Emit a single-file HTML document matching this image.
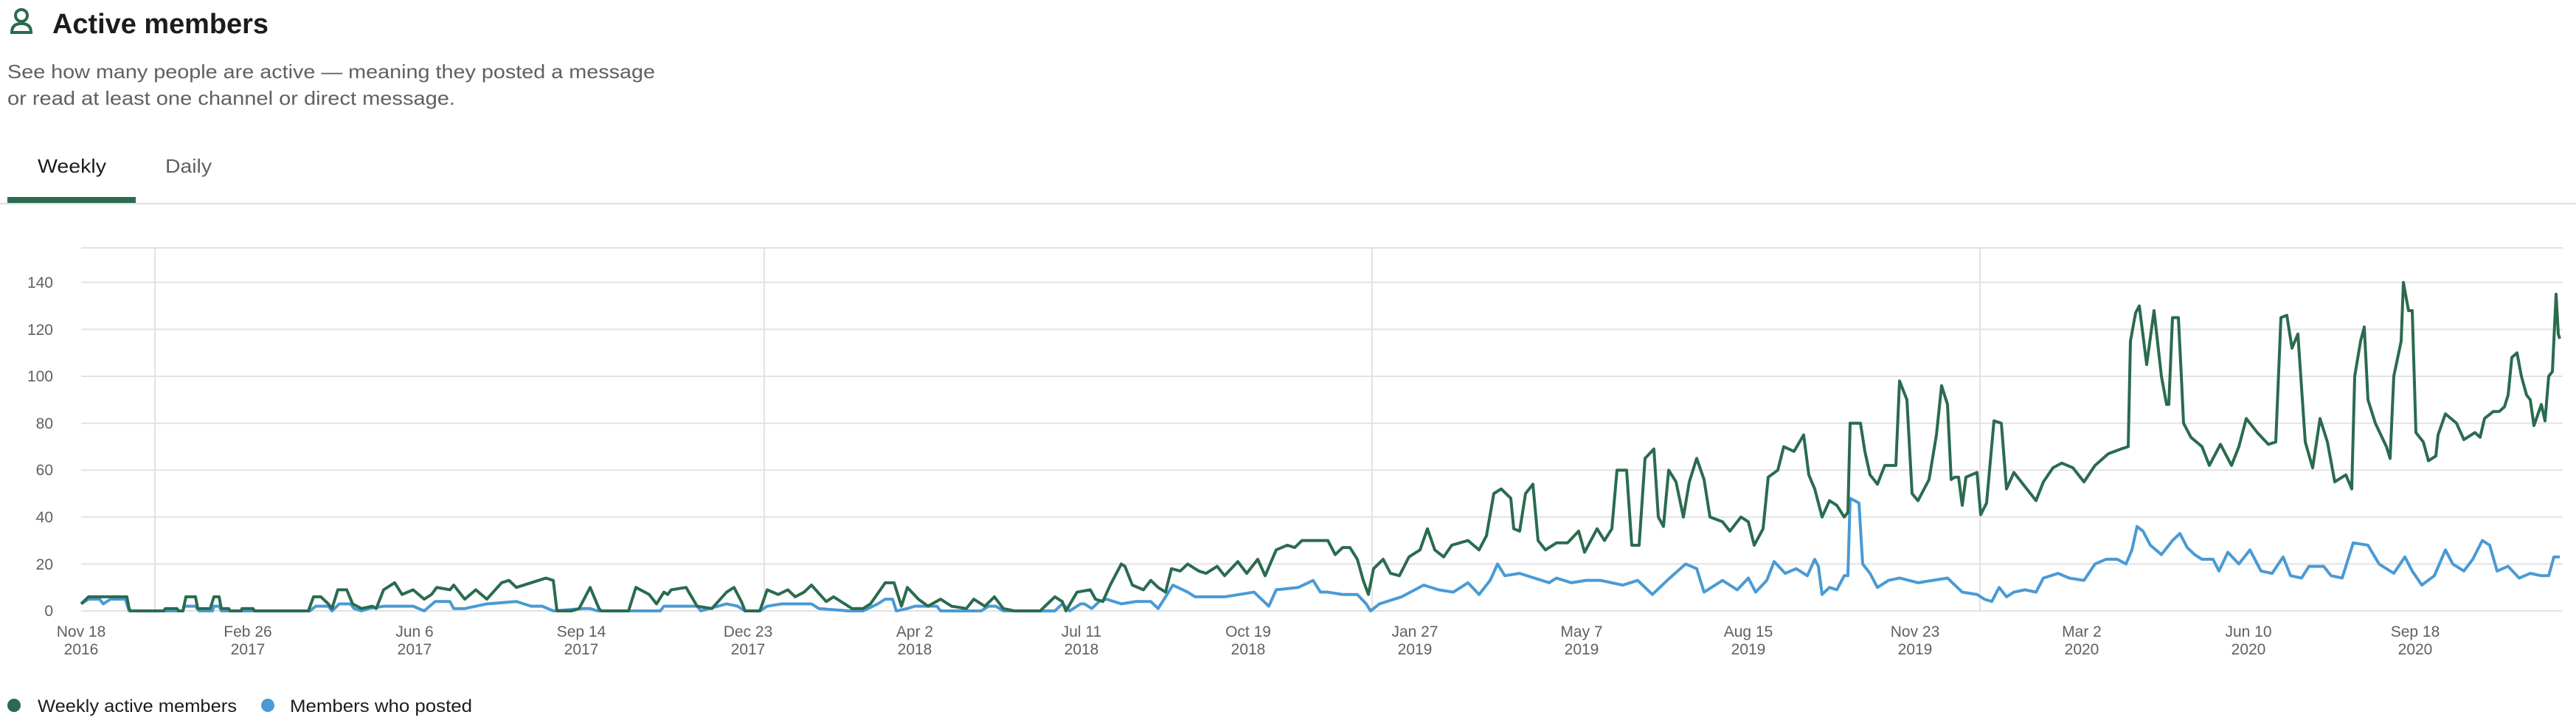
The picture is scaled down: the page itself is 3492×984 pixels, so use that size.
<!DOCTYPE html>
<html><head><meta charset="utf-8"><style>
html,body{margin:0;padding:0;background:#fff;width:3492px;height:984px;overflow:hidden}
svg{display:block}
text{font-family:"Liberation Sans",sans-serif}
</style></head><body>
<svg width="3492" height="984" viewBox="0 0 3492 984" xmlns="http://www.w3.org/2000/svg">
<!-- header -->
<g fill="none" stroke="#2a6b4f" stroke-width="4">
<circle cx="29" cy="21" r="8"/>
<path d="M16 44 Q16 32 29 32 Q42 32 42 44 Z"/>
</g>
<text x="71" y="45" font-size="38" font-weight="bold" fill="#1d1c1d" textLength="293" lengthAdjust="spacingAndGlyphs">Active members</text>
<text x="10" y="106" font-size="26" fill="#616061" textLength="878" lengthAdjust="spacingAndGlyphs">See how many people are active — meaning they posted a message</text>
<text x="10" y="142" font-size="26" fill="#616061" textLength="607" lengthAdjust="spacingAndGlyphs">or read at least one channel or direct message.</text>
<text x="51" y="234" font-size="26" fill="#1d1c1d" textLength="93" lengthAdjust="spacingAndGlyphs">Weekly</text>
<text x="224" y="234" font-size="26" fill="#616061" textLength="63" lengthAdjust="spacingAndGlyphs">Daily</text>
<rect x="0" y="275" width="3492" height="2" fill="#dddddd"/>
<rect x="10" y="267" width="174" height="8" fill="#2a6b4f"/>

<!-- grid -->
<g stroke="#e2e2e2" stroke-width="2">
<line x1="110" y1="336" x2="3474" y2="336"/>
<line x1="110" y1="382.8" x2="3474" y2="382.8"/>
<line x1="110" y1="446.4" x2="3474" y2="446.4"/>
<line x1="110" y1="510" x2="3474" y2="510"/>
<line x1="110" y1="573.6" x2="3474" y2="573.6"/>
<line x1="110" y1="637.2" x2="3474" y2="637.2"/>
<line x1="110" y1="700.8" x2="3474" y2="700.8"/>
<line x1="110" y1="764.4" x2="3474" y2="764.4"/>
<line x1="110" y1="828" x2="3474" y2="828"/>
<line x1="210" y1="336" x2="210" y2="828"/>
<line x1="1036" y1="336" x2="1036" y2="828"/>
<line x1="1860" y1="336" x2="1860" y2="828"/>
<line x1="2684" y1="336" x2="2684" y2="828"/>
</g>
<g font-size="21" fill="#616061" text-anchor="end">
<text x="72" y="390">140</text><text x="72" y="454">120</text><text x="72" y="517">100</text>
<text x="72" y="581">80</text><text x="72" y="644">60</text><text x="72" y="708">40</text>
<text x="72" y="772">20</text><text x="72" y="835">0</text>
</g>
<g font-size="21" fill="#616061" text-anchor="middle">
<text x="110" y="863">Nov 18</text><text x="110" y="887">2016</text>
<text x="336" y="863">Feb 26</text><text x="336" y="887">2017</text>
<text x="562" y="863">Jun 6</text><text x="562" y="887">2017</text>
<text x="788" y="863">Sep 14</text><text x="788" y="887">2017</text>
<text x="1014" y="863">Dec 23</text><text x="1014" y="887">2017</text>
<text x="1240" y="863">Apr 2</text><text x="1240" y="887">2018</text>
<text x="1466" y="863">Jul 11</text><text x="1466" y="887">2018</text>
<text x="1692" y="863">Oct 19</text><text x="1692" y="887">2018</text>
<text x="1918" y="863">Jan 27</text><text x="1918" y="887">2019</text>
<text x="2144" y="863">May 7</text><text x="2144" y="887">2019</text>
<text x="2370" y="863">Aug 15</text><text x="2370" y="887">2019</text>
<text x="2596" y="863">Nov 23</text><text x="2596" y="887">2019</text>
<text x="2822" y="863">Mar 2</text><text x="2822" y="887">2020</text>
<text x="3048" y="863">Jun 10</text><text x="3048" y="887">2020</text>
<text x="3274" y="863">Sep 18</text><text x="3274" y="887">2020</text>
</g>

<g transform="translate(0,828) scale(1,-3.18)" fill="none" stroke-linejoin="round">
<polyline vector-effect="non-scaling-stroke" stroke="#4a9ad4" stroke-width="4" points="110,3 120,5 135,5 140,3 150,5 170,5 175,0 248,0 250,2 265,2 270,0 288,0 290,2 297,2 300,0 420,0 428,2 445,2 450,0 460,3 475,3 480,1 490,0 500,1 520,2 560,2 575,0 590,4 610,4 615,1 630,1 660,3 700,4 720,2 735,2 750,0 790,1 800,1 810,0 895,0 900,2 945,2 950,0 985,3 1000,2 1010,0 1030,0 1040,2 1060,3 1100,3 1110,1 1150,0 1170,0 1190,3 1200,5 1210,5 1215,0 1230,1 1240,2 1270,2 1275,0 1330,0 1340,2 1350,2 1360,0 1430,0 1440,3 1450,0 1465,3 1470,3 1480,1 1490,4 1500,5 1520,3 1540,4 1560,4 1570,1 1590,11 1610,8 1620,6 1660,6 1700,8 1720,2 1730,9 1760,10 1780,13 1790,8 1800,8 1820,7 1840,7 1852,3 1858,0 1870,3 1900,6 1930,11 1950,9 1970,8 1990,12 2005,7 2020,13 2030,20 2040,15 2060,16 2080,14 2100,12 2110,14 2130,12 2150,13 2170,13 2200,11 2220,13 2240,7 2260,13 2285,20 2300,18 2310,8 2335,13 2355,9 2370,14 2380,8 2395,13 2405,21 2420,16 2435,18 2450,15 2460,22 2465,19 2470,7 2480,10 2490,9 2500,15 2505,15 2508,48 2520,46 2525,20 2535,16 2545,10 2560,13 2575,14 2600,12 2620,13 2640,14 2660,8 2680,7 2690,5 2700,4 2710,10 2720,6 2730,8 2745,9 2760,8 2770,14 2790,16 2805,14 2825,13 2840,20 2855,22 2870,22 2882,20 2890,26 2897,36 2905,34 2915,28 2930,24 2945,30 2955,33 2965,27 2975,24 2985,22 3000,22 3008,17 3020,25 3035,20 3050,26 3065,17 3080,16 3095,23 3105,15 3120,14 3130,19 3150,19 3160,15 3175,14 3190,29 3210,28 3225,20 3245,16 3260,23 3270,17 3283,11 3300,15 3315,26 3325,20 3340,17 3352,22 3365,30 3375,28 3385,17 3400,19 3415,14 3430,16 3445,15 3455,15 3462,23 3470,23"/>
<polyline vector-effect="non-scaling-stroke" stroke="#2a6b4f" stroke-width="4" points="110,3 120,6 172,6 175,1 177,0 222,0 224,1 240,1 242,0 248,0 252,6 265,6 268,1 285,1 290,6 297,6 300,1 310,1 312,0 327,0 328,1 343,1 345,0 418,0 425,6 435,6 445,3 450,1 458,9 470,9 478,3 490,1 505,2 510,1 520,9 535,12 545,7 560,9 575,5 585,7 592,10 610,9 615,11 630,5 645,9 660,5 680,12 690,13 700,10 730,13 740,14 750,13 755,0 775,0 785,1 800,10 812,1 815,0 852,0 862,10 880,7 890,3 900,8 905,7 910,9 930,10 945,2 965,1 985,8 995,10 1005,4 1010,0 1030,0 1040,9 1055,7 1068,9 1078,6 1090,8 1100,11 1120,4 1130,6 1145,3 1155,1 1170,1 1180,3 1200,12 1212,12 1222,2 1230,10 1245,5 1258,2 1275,5 1290,2 1310,1 1320,5 1335,2 1348,6 1360,1 1375,0 1410,0 1430,6 1440,4 1445,0 1460,8 1478,9 1485,5 1495,4 1505,11 1520,20 1525,19 1535,11 1550,9 1560,13 1570,10 1580,8 1588,18 1600,17 1610,20 1625,17 1635,16 1650,19 1660,15 1678,21 1690,16 1705,22 1715,15 1730,26 1745,28 1755,27 1765,30 1775,30 1800,30 1810,24 1820,27 1830,27 1840,22 1848,13 1855,7 1862,18 1875,22 1885,16 1897,15 1910,23 1925,26 1935,35 1945,26 1957,23 1968,28 1990,30 2005,26 2015,32 2025,50 2035,52 2048,48 2052,35 2060,34 2068,50 2078,54 2085,30 2095,26 2110,29 2125,29 2140,34 2148,25 2165,35 2175,30 2185,35 2192,60 2205,60 2212,28 2222,28 2230,65 2242,69 2248,40 2255,36 2262,60 2272,55 2282,40 2290,55 2300,65 2310,56 2318,40 2335,38 2345,34 2360,40 2370,38 2378,28 2390,35 2397,57 2410,60 2418,70 2432,68 2445,75 2452,58 2460,52 2470,40 2480,47 2490,45 2500,40 2505,42 2508,80 2515,80 2522,80 2528,68 2535,58 2545,54 2555,62 2570,62 2575,98 2585,90 2592,50 2600,47 2615,56 2625,75 2632,96 2640,88 2645,56 2650,57 2655,57 2660,45 2665,57 2680,59 2685,41 2693,46 2703,81 2713,80 2720,52 2730,59 2745,53 2760,47 2770,55 2783,61 2795,63 2810,61 2825,55 2840,62 2858,67 2875,69 2885,70 2888,115 2895,127 2900,130 2910,105 2920,128 2930,100 2937,88 2940,88 2945,125 2953,125 2957,100 2960,80 2970,74 2985,70 2995,62 3010,71 3025,62 3035,70 3045,82 3060,76 3075,71 3085,72 3092,125 3100,126 3107,112 3115,118 3125,72 3135,61 3145,82 3155,72 3165,55 3180,58 3188,52 3192,100 3200,115 3205,121 3210,90 3220,80 3235,70 3240,65 3245,100 3255,115 3258,140 3265,128 3270,128 3275,76 3285,72 3292,64 3302,66 3305,75 3315,84 3330,80 3340,73 3355,76 3362,74 3368,82 3380,85 3388,85 3395,87 3400,92 3405,108 3412,110 3418,100 3425,92 3430,90 3435,79 3445,88 3450,81 3455,100 3460,102 3465,135 3468,118 3470,116"/>
</g>

<!-- legend -->
<circle cx="19" cy="956" r="9" fill="#2a6b4f"/>
<text x="51" y="965" font-size="24" fill="#1d1c1d" textLength="270" lengthAdjust="spacingAndGlyphs">Weekly active members</text>
<circle cx="363" cy="956" r="9" fill="#4a9ad4"/>
<text x="393" y="965" font-size="24" fill="#1d1c1d" textLength="247" lengthAdjust="spacingAndGlyphs">Members who posted</text>
</svg>
</body></html>
